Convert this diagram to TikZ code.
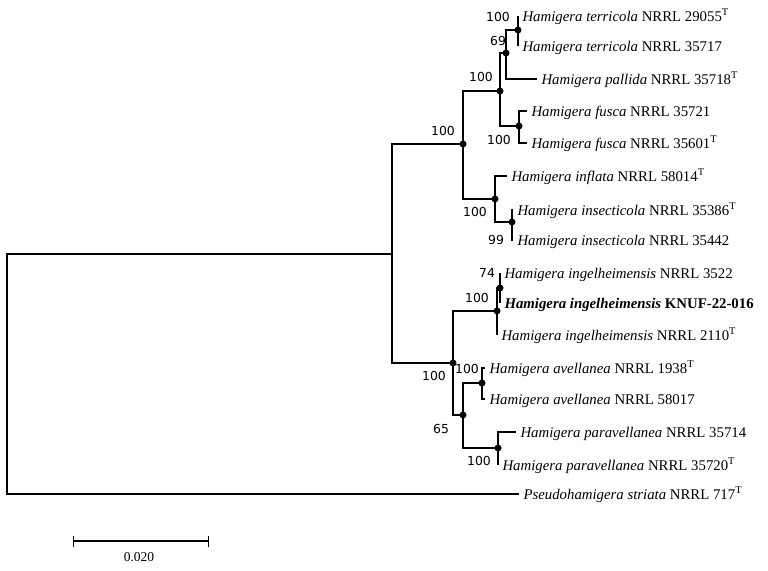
\documentclass[tikz,border=0pt]{standalone}
\usepackage{fontspec}
\setmainfont{Liberation Serif}
\newfontfamily\bootfont{DejaVu Sans}
\usetikzlibrary{arrows.meta}

\newcommand{\typeT}{\textsuperscript{T}}

\begin{document}
\begin{tikzpicture}[x=1pt,y=-1pt,line width=1.1pt,
    leaf/.style={anchor=west,inner xsep=4pt,inner ysep=0pt,
      text height=10pt,text depth=0pt,font=\fontsize{14.8}{17}\selectfont},
    boot/.style={inner sep=0pt,font=\bootfont\fontsize{12.4}{14}\selectfont},
    scale label/.style={inner sep=0pt,font=\fontsize{13.5}{15}\selectfont}]

  \useasboundingbox (0,0) rectangle (768,570);

  % internal nodes
  \coordinate (R) at (7,374);
  \coordinate (H) at (392,254);
  \coordinate (A) at (463,144);
  \coordinate (A1) at (500,91);
  \coordinate (A11) at (506,53);
  \coordinate (TERn) at (518,30);
  \coordinate (FUSn) at (519,126);
  \coordinate (A2) at (495,199);
  \coordinate (INSn) at (512,222);
  \coordinate (B) at (453,363);
  \coordinate (B1) at (497,311);
  \coordinate (INGn) at (500,288);
  \coordinate (B2) at (463,415);
  \coordinate (AVEn) at (482,383);
  \coordinate (PARn) at (498,448);

  % leaves
  \node[leaf] (TER1) at (518,16) {\textit{Hamigera terricola} NRRL 29055\typeT};
  \node[leaf] (TER2) at (518,46) {\textit{Hamigera terricola} NRRL 35717};
  \node[leaf] (PAL) at (537,79) {\textit{Hamigera pallida} NRRL 35718\typeT};
  \node[leaf] (FUS1) at (527,111) {\textit{Hamigera fusca} NRRL 35721};
  \node[leaf] (FUS2) at (527,143) {\textit{Hamigera fusca} NRRL 35601\typeT};
  \node[leaf] (INF) at (507,176) {\textit{Hamigera inflata} NRRL 58014\typeT};
  \node[leaf] (INS1) at (513,210) {\textit{Hamigera insecticola} NRRL 35386\typeT};
  \node[leaf] (INS2) at (513,240) {\textit{Hamigera insecticola} NRRL 35442};
  \node[leaf] (ING1) at (500,273) {\textit{Hamigera ingelheimensis} NRRL 3522};
  \node[leaf] (KNUF) at (500,303) {\textbf{\textit{Hamigera ingelheimensis} KNUF-22-016}};
  \node[leaf] (ING2) at (497,335) {\textit{Hamigera ingelheimensis} NRRL 2110\typeT};
  \node[leaf] (AVE1) at (485,368) {\textit{Hamigera avellanea} NRRL 1938\typeT};
  \node[leaf] (AVE2) at (485,399) {\textit{Hamigera avellanea} NRRL 58017};
  \node[leaf] (PAR1) at (516,432) {\textit{Hamigera paravellanea} NRRL 35714};
  \node[leaf] (PAR2) at (498,465) {\textit{Hamigera paravellanea} NRRL 35720\typeT};
  \node[leaf] (PSE) at (519,494) {\textit{Pseudohamigera striata} NRRL 717\typeT};

  % branches
  \draw (R) |- (H) (R) |- (PSE.west)
        (H) |- (A) (H) |- (B)
        (A) |- (A1) (A) |- (A2)
        (A1) |- (A11) (A1) |- (FUSn)
        (A11) |- (TERn) (A11) |- (PAL.west)
        (TERn) |- (TER1.west) (TERn) |- (TER2.west)
        (FUSn) |- (FUS1.west) (FUSn) |- (FUS2.west)
        (A2) |- (INF.west) (A2) |- (INSn)
        (INSn) |- (INS1.west) (INSn) |- (INS2.west)
        (B) |- (B1) (B) |- (B2)
        (B1) |- (INGn) (B1) |- (ING2.west)
        (INGn) |- (ING1.west) (INGn) |- (KNUF.west)
        (B2) |- (AVEn) (B2) |- (PARn)
        (AVEn) |- (AVE1.west) (AVEn) |- (AVE2.west)
        (PARn) |- (PAR1.west) (PARn) |- (PAR2.west);

  \foreach \n in {A,A1,A11,TERn,FUSn,A2,INSn,B,B1,INGn,B2,AVEn,PARn}
    \fill (\n) circle (3.5pt);

  % bootstrap values
  \node[boot] (bTER) at (498,17) {100};
  \node[boot] (bA11) at (498,41) {69};
  \node[boot] (bA1) at (481,77) {100};
  \node[boot] (bFUS) at (499,140) {100};
  \node[boot] (bA) at (443,131) {100};
  \node[boot] (bA2) at (475,212) {100};
  \node[boot] (bINS) at (496,240) {99};
  \node[boot] (bING) at (487,273) {74};
  \node[boot] (bB1) at (477,298) {100};
  \node[boot] (bB) at (434,376) {100};
  \node[boot] (bAVE) at (467,369) {100};
  \node[boot] (bB2) at (441,429) {65};
  \node[boot] (bPAR) at (479,461) {100};

  % scale bar
  \coordinate (SB1) at (73,541);
  \coordinate (SB2) at (209,541);
  \draw[{Bar[width=11pt]}-{Bar[width=11pt]}] (SB1) -- (SB2);
  \node[scale label] (SBL) at (139,557) {0.020};
\end{tikzpicture}
\end{document}
